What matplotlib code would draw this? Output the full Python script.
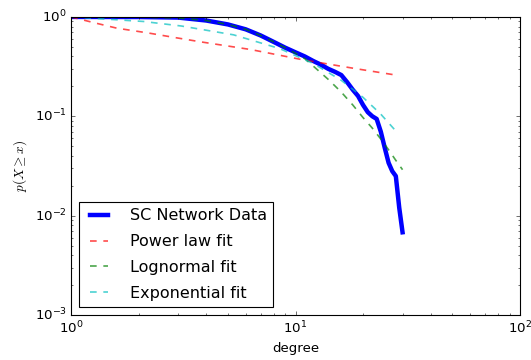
import matplotlib
matplotlib.use("Agg")
import matplotlib.pyplot as plt

# CCDF of the degree data
deg = [1, 2, 3, 4, 5, 6, 7, 8, 9, 10, 11, 12, 13, 14, 15,
       16, 17, 18, 19, 20, 21, 22, 23, 24, 25, 26, 27, 28, 29, 30]
ccdf = [1.0, 0.998, 0.985, 0.92, 0.84, 0.75, 0.65, 0.56, 0.49, 0.44,
        0.40, 0.36, 0.33, 0.30, 0.28, 0.26, 0.22, 0.185, 0.16, 0.13,
        0.11, 0.10, 0.094, 0.07, 0.048, 0.034, 0.028, 0.025, 0.012, 0.0068]

# fitted distributions
pl_x = [1, 1.25, 1.6, 2.2, 2.9, 3.8, 6.3, 10.8, 18.8, 28]
pl_y = [1.0, 0.88, 0.77, 0.69, 0.62, 0.56, 0.47, 0.37, 0.30, 0.26]

ln_x = [1, 2, 3, 4, 5, 6, 7, 8, 9, 10, 11, 12, 14, 16, 18, 20, 22, 24, 26, 28, 30]
ln_y = [1.0, 0.995, 0.975, 0.92, 0.84, 0.75, 0.65, 0.56, 0.49, 0.43, 0.38,
        0.32, 0.235, 0.175, 0.13, 0.097, 0.076, 0.059, 0.046, 0.036, 0.029]

ex_x = [1, 2.1, 3.1, 5.3, 8.5, 12, 16, 20, 24, 28.5]
ex_y = [1.0, 0.90, 0.81, 0.66, 0.48, 0.34, 0.23, 0.155, 0.105, 0.068]

plt.style.use("classic")
plt.rcParams["figure.facecolor"] = "white"
plt.rcParams["savefig.facecolor"] = "white"

fig, ax = plt.subplots(figsize=(531 / 80, 360 / 80), dpi=80)
fig.subplots_adjust(left=0.134, right=0.979, top=0.953, bottom=0.125)

ax.loglog(deg, ccdf, color="b", lw=4, label="SC Network Data")
ax.loglog(pl_x, pl_y, "r--", lw=1.5, alpha=0.7, label="Power law fit")
ax.loglog(ln_x, ln_y, "g--", lw=1.5, alpha=0.7, label="Lognormal fit")
ax.loglog(ex_x, ex_y, "c--", lw=1.5, alpha=0.7, label="Exponential fit")

ax.set_xlim(1, 100)
ax.set_ylim(1e-3, 1)
ax.set_xlabel("degree")
ax.set_ylabel(r"$p(X\geq x)$")
ax.legend(loc="lower left", handlelength=1.7, handletextpad=1.05, labelspacing=0.67)

fig.savefig("out.png", dpi=80)
